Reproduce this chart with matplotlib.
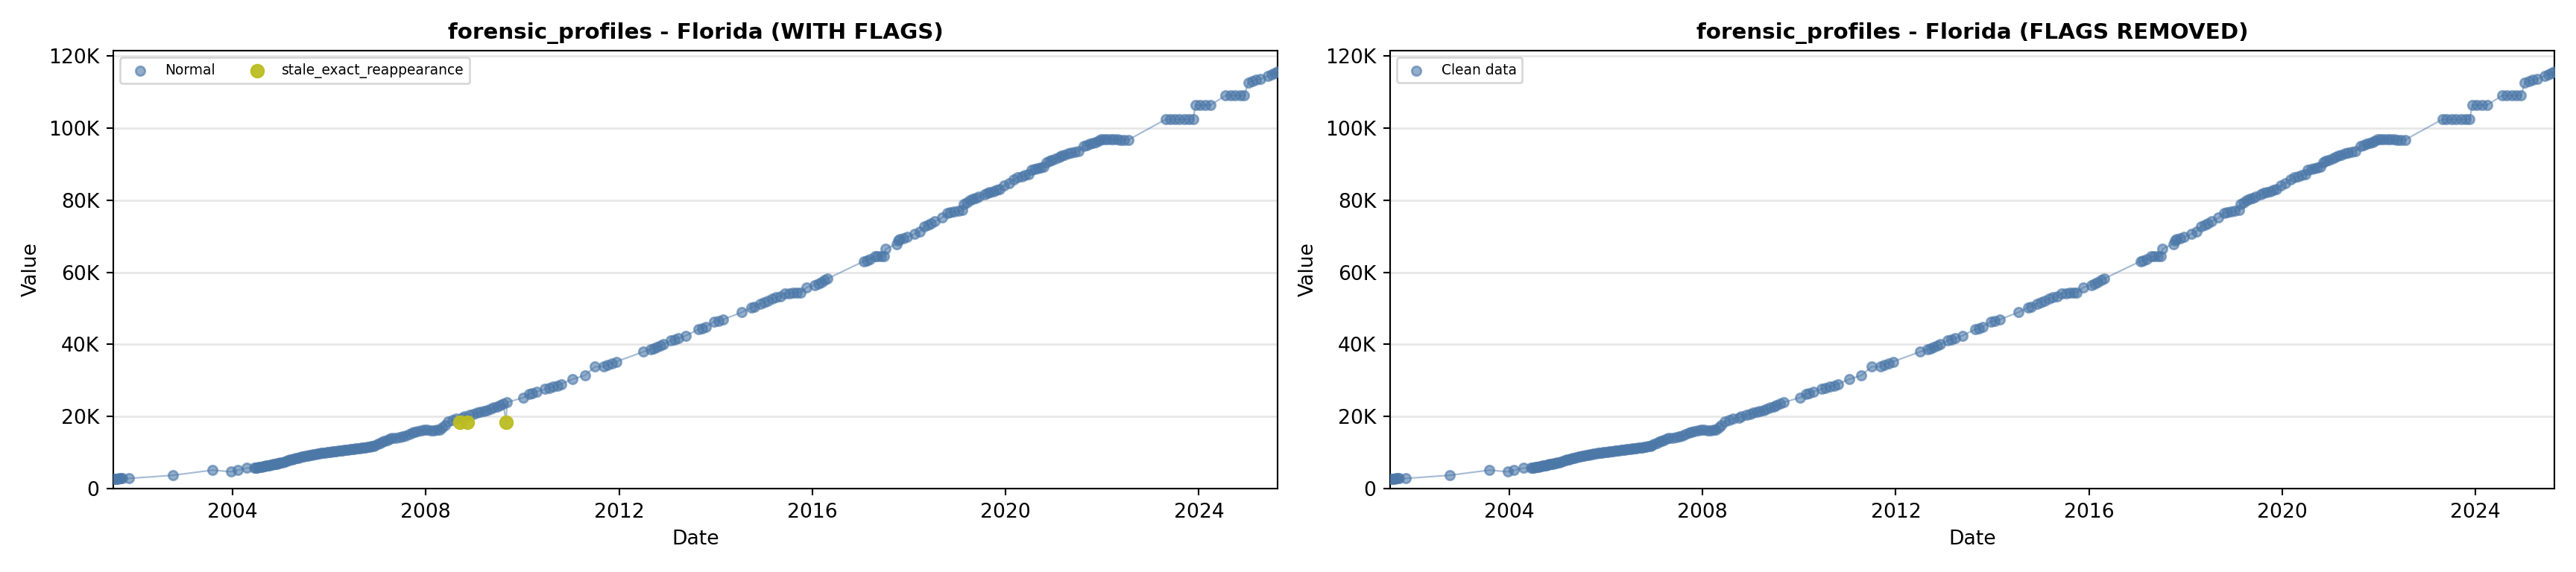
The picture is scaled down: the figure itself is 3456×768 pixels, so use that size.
import datetime as dt
import numpy as np
import matplotlib
matplotlib.use("Agg")
import matplotlib.pyplot as plt
import matplotlib.dates as mdates
from matplotlib.ticker import FuncFormatter

# values (decimal year, value)
years = [
    2001.53, 2001.56, 2001.59, 2001.62, 2001.65, 2001.68, 2001.71, 2001.85, 2002.76, 2003.59,
    2003.97, 2004.10, 2004.29, 2004.45, 2004.48, 2004.51, 2004.54, 2004.57, 2004.60, 2004.63,
    2004.66, 2004.69, 2004.72, 2004.75, 2004.78, 2004.81, 2004.84, 2004.87, 2004.90, 2004.93,
    2004.96, 2004.99, 2005.03, 2005.07, 2005.11, 2005.15, 2005.19, 2005.23, 2005.27, 2005.31,
    2005.35, 2005.39, 2005.43, 2005.47, 2005.51, 2005.55, 2005.59, 2005.63, 2005.67, 2005.71,
    2005.75, 2005.79, 2005.83, 2005.87, 2005.91, 2005.95, 2005.99, 2006.03, 2006.07, 2006.11,
    2006.15, 2006.19, 2006.23, 2006.27, 2006.31, 2006.35, 2006.39, 2006.43, 2006.47, 2006.51,
    2006.55, 2006.59, 2006.63, 2006.67, 2006.71, 2006.75, 2006.79, 2006.83, 2006.87, 2006.91,
    2006.95, 2007.00, 2007.05, 2007.10, 2007.15, 2007.20, 2007.25, 2007.30, 2007.38, 2007.45,
    2007.52, 2007.58, 2007.65, 2007.72, 2007.77, 2007.83, 2007.90, 2007.97, 2008.03, 2008.10,
    2008.17, 2008.23, 2008.28, 2008.34, 2008.39, 2008.46, 2008.55, 2008.63, 2008.70, 2008.75,
    2008.80, 2008.85, 2008.90, 2008.98, 2009.05, 2009.12, 2009.19, 2009.26, 2009.33, 2009.40,
    2009.47, 2009.53, 2009.60, 2009.66, 2009.68, 2010.01, 2010.14, 2010.20, 2010.29, 2010.47,
    2010.55, 2010.63, 2010.72, 2010.80, 2011.04, 2011.29, 2011.50, 2011.68, 2011.76, 2011.85,
    2011.94, 2012.50, 2012.66, 2012.72, 2012.78, 2012.85, 2012.92, 2013.07, 2013.15, 2013.23,
    2013.38, 2013.64, 2013.72, 2013.79, 2013.97, 2014.05, 2014.15, 2014.54, 2014.74, 2014.80,
    2014.92, 2015.00, 2015.08, 2015.17, 2015.25, 2015.34, 2015.43, 2015.52, 2015.60, 2015.68,
    2015.75, 2015.88, 2016.05, 2016.12, 2016.18, 2016.25, 2016.31, 2017.06, 2017.12, 2017.19,
    2017.29, 2017.35, 2017.42, 2017.48, 2017.52, 2017.75, 2017.78, 2017.81, 2017.88, 2017.96,
    2018.12, 2018.22, 2018.32, 2018.40, 2018.46, 2018.53, 2018.68, 2018.79, 2018.86, 2018.94,
    2019.02, 2019.10, 2019.14, 2019.20, 2019.26, 2019.32, 2019.38, 2019.45, 2019.56, 2019.62,
    2019.68, 2019.75, 2019.81, 2019.87, 2019.97, 2020.07, 2020.17, 2020.25, 2020.33, 2020.40,
    2020.48, 2020.53, 2020.60, 2020.66, 2020.72, 2020.79, 2020.84, 2020.90, 2020.96, 2021.03,
    2021.10, 2021.15, 2021.22, 2021.29, 2021.36, 2021.43, 2021.51, 2021.62, 2021.68, 2021.74,
    2021.80, 2021.86, 2021.92, 2021.97, 2022.03, 2022.10, 2022.17, 2022.24, 2022.31, 2022.38,
    2022.45, 2022.54, 2023.31, 2023.40, 2023.50, 2023.60, 2023.70, 2023.80, 2023.88, 2023.93,
    2024.03, 2024.13, 2024.24, 2024.55, 2024.65, 2024.75, 2024.85, 2024.94, 2025.02, 2025.10,
    2025.18, 2025.28, 2025.43, 2025.50, 2025.57, 2025.63,
]
values = [
    2650, 2700, 2720, 2750, 2780, 2800, 2800, 2790, 3660, 5100,
    4630, 5040, 5660, 5700, 5750, 5850, 5900, 6000, 6050, 6150,
    6200, 6300, 6350, 6450, 6500, 6600, 6700, 6800, 6850, 6950,
    7050, 7150, 7300, 7450, 7650, 7800, 7950, 8100, 8250, 8400,
    8550, 8700, 8800, 8950, 9050, 9150, 9250, 9350, 9450, 9550,
    9650, 9750, 9850, 9900, 9980, 10050, 10120, 10200, 10270, 10340,
    10400, 10470, 10530, 10600, 10650, 10720, 10780, 10850, 10920, 11000,
    11050, 11120, 11170, 11250, 11300, 11380, 11450, 11550, 11700, 11850,
    12000, 12300, 12600, 12900, 13200, 13500, 13800, 13950, 14100, 14300,
    14500, 14600, 15000, 15400, 15600, 15800, 16100, 16200, 16200, 16100,
    16150, 16200, 16250, 17000, 17600, 18600, 19000, 19300, 18470, 19600,
    20000, 18470, 20400, 20700, 21030, 21200, 21500, 21720, 22100, 22400,
    22750, 23100, 23500, 18470, 23930, 25170, 26210, 26500, 26900, 27580,
    27900, 28200, 28600, 28970, 30350, 31380, 33790, 33790, 34300, 34800,
    35180, 37930, 38620, 38900, 39200, 39600, 40000, 41040, 41400, 41730,
    42420, 44140, 44500, 44830, 46350, 46480, 46900, 48900, 50270, 50500,
    51310, 51700, 52100, 52600, 53000, 53380, 54080, 54200, 54300, 54400,
    54410, 55800, 56480, 56900, 57300, 57800, 58220, 63040, 63300, 63730,
    64420, 64420, 64500, 64420, 66500, 67870, 68900, 69250, 69500, 69810,
    70640, 71320, 72710, 73200, 73600, 74080, 75110, 76500, 76700, 76800,
    77000, 77180, 78920, 79400, 79900, 80300, 80600, 81000, 81670, 82000,
    82300, 82500, 82800, 83060, 84100, 84680, 85800, 86300, 86600, 86900,
    87100, 88470, 88700, 88900, 89000, 89170, 90540, 90900, 91200, 91600,
    91930, 92280, 92600, 92900, 93200, 93400, 93650, 95030, 95300, 95600,
    95800, 96000, 96500, 97000, 97000, 97000, 97000, 96900, 96900, 96800,
    96800, 96760, 102420, 102420, 102420, 102420, 102420, 102420, 102420, 106420,
    106420, 106420, 106420, 109040, 109040, 109040, 109040, 109040, 112630, 113100,
    113400, 113660, 114550, 114900, 115300, 115730,
]
# points flagged as stale_exact_reappearance
flag_years = [2008.70, 2008.85, 2009.66]

blue = "#4C78A8"
olive = "#BCBD22"


def to_date(y):
    yr = int(y)
    start = dt.datetime(yr, 1, 1)
    days = (dt.datetime(yr + 1, 1, 1) - start).days
    return start + dt.timedelta(days=(y - yr) * days)


dates = np.array([to_date(y) for y in years])
vals = np.array(values, dtype=float)
is_flag = np.isin(np.array(years), flag_years)


def style(ax, title):
    ax.set_title(title, fontsize=11, fontweight="bold")
    ax.set_xlabel("Date", fontsize=10)
    ax.set_ylabel("Value", fontsize=10)
    ax.set_xlim(dates[0], dates[-1])
    ax.set_ylim(0, vals.max() * 1.05)
    ax.xaxis.set_major_locator(mdates.YearLocator(4))
    ax.xaxis.set_major_formatter(mdates.DateFormatter("%Y"))
    ax.yaxis.set_major_formatter(FuncFormatter(lambda v, p: "0" if v == 0 else f"{v/1000:.0f}K"))
    ax.grid(axis="y", color="#e6e6e6", linewidth=1)
    ax.set_axisbelow(True)
    ax.tick_params(labelsize=10)


fig, (ax1, ax2) = plt.subplots(1, 2, figsize=(18, 4), dpi=192)
fig.subplots_adjust(left=0.044, right=0.9916, bottom=0.146, top=0.9115, wspace=0.0965)

# with flags
ax1.plot(dates, vals, color=blue, alpha=0.5, linewidth=0.8)
ax1.scatter(dates[~is_flag], vals[~is_flag], s=22, color=blue, alpha=0.6, label="Normal", zorder=3)
ax1.scatter(dates[is_flag], vals[is_flag], s=40, color=olive, alpha=0.95,
            label="stale_exact_reappearance", zorder=4)
style(ax1, "forensic_profiles - Florida (WITH FLAGS)")
ax1.legend(loc="upper left", ncol=2, fontsize=7)

# flags removed
cd, cv = dates[~is_flag], vals[~is_flag]
ax2.plot(cd, cv, color=blue, alpha=0.5, linewidth=0.8)
ax2.scatter(cd, cv, s=22, color=blue, alpha=0.6, label="Clean data", zorder=3)
style(ax2, "forensic_profiles - Florida (FLAGS REMOVED)")
ax2.legend(loc="upper left", fontsize=7)

fig.savefig("out.png", dpi=192)
